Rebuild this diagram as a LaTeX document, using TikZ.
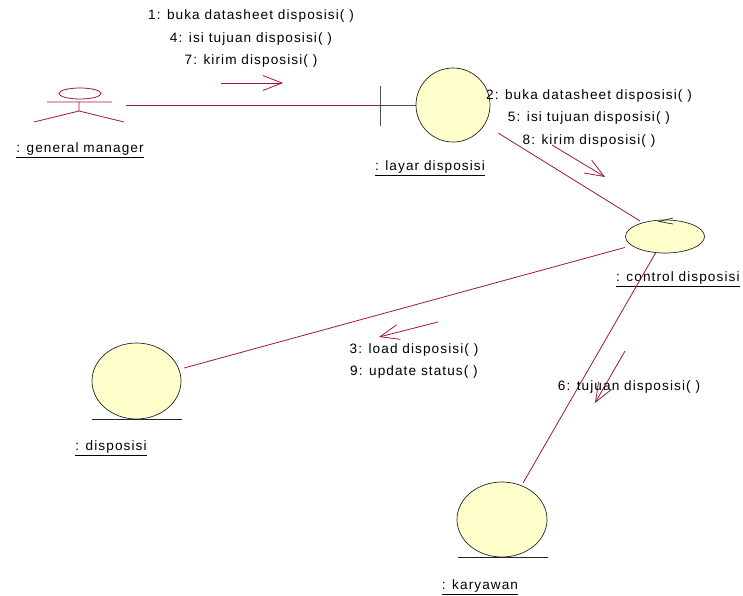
\documentclass[tikz,border=0pt]{standalone}
\usepackage{fontspec}
\setmainfont{Liberation Sans}[LetterSpace=8]
\usetikzlibrary{arrows.meta,shapes.geometric}
\definecolor{linkred}{RGB}{160,20,70}
\definecolor{objyellow}{RGB}{255,255,204}
\begin{document}
\begin{tikzpicture}[x=1pt,y=-1pt,
    link/.style={draw=linkred, line width=0.8pt},
    msgarrow/.style={draw=linkred, line width=0.8pt, -{Straight Barb[length=19pt,width=15pt]}},
    obj/.style={ellipse, draw=black!85, fill=objyellow, inner sep=0pt, line width=0.7pt},
    txt/.style={font=\fontsize{13.6}{22.5}\selectfont, align=center, inner sep=0pt}]
    \useasboundingbox (0,0) rectangle (743,596);
    % actor
    \node (gm) [minimum width=94pt, minimum height=40pt, inner sep=0pt] at (79,105) {};
    \draw[linkred, line width=0.8pt] (80,93.5) ellipse [x radius=21pt, y radius=5.5pt];
    \draw[linkred, line width=0.8pt] (47,102) -- (112,102) (79,102) -- (79,111) (34,122) -- (79,111) -- (124,122);
    \node[txt] at (80,150) {\underline{: general manager}};
    % boundary
    \node (layar) [obj, minimum size=74pt] at (453,105) {};
    \coordinate (layarbar) at (380,105);
    \draw[black!70, line width=0.8pt] (380,86) -- (380,126) (layarbar) -- (layar);
    \node[txt] at (430,168) {\underline{: layar disposisi}};
    % control
    \node (ctrl) [obj, minimum width=79pt, minimum height=33pt] at (665,236.5) {};
    \draw[black!85, line width=0.7pt] (673,218) -- (659,221.5) -- (673,224);
    \node[txt, anchor=west] at (616,279) {\underline{: control disposisi}};
    % entities
    \node (dispo) [obj, minimum width=89pt, minimum height=76pt] at (136.5,381) {};
    \draw[black!85, line width=0.7pt] ([xshift=-44.5pt]dispo.south) -- ([xshift=45.5pt]dispo.south);
    \node[txt] at (111,448) {\underline{: disposisi}};
    \node (kary) [obj, minimum width=90pt, minimum height=75pt] at (502,519.5) {};
    \draw[black!85, line width=0.7pt] ([xshift=-44pt]kary.south) -- ([xshift=46pt]kary.south);
    \node[txt] at (480,587) {\underline{: karyawan}};
    % links
    \draw[link] (gm) -- (layarbar);
    \draw[link, shorten <=16pt, shorten >=3pt] (layar) -- (ctrl);
    \draw[link, shorten <=7pt, shorten >=5pt] (ctrl) -- (dispo);
    \draw[link, shorten >=3pt] (ctrl) -- (kary);
    % messages
    \draw[msgarrow] (221,83) -- (283,83);
    \node[txt] at (251,38.5) {1: buka datasheet disposisi( )\\4: isi tujuan disposisi( )\\7: kirim disposisi( )};
    \draw[msgarrow] (552,145) -- (605,177);
    \node[txt] at (589,118) {2: buka datasheet disposisi( )\\5: isi tujuan disposisi( )\\8: kirim disposisi( )};
    \draw[msgarrow] (438,322) -- (379,337);
    \node[txt] at (414,361) {3: load disposisi( )\\9: update status( )};
    \draw[msgarrow] (625,351) -- (595,403);
    \node[txt] at (629,387) {6: tujuan disposisi( )};
\end{tikzpicture}
\end{document}
